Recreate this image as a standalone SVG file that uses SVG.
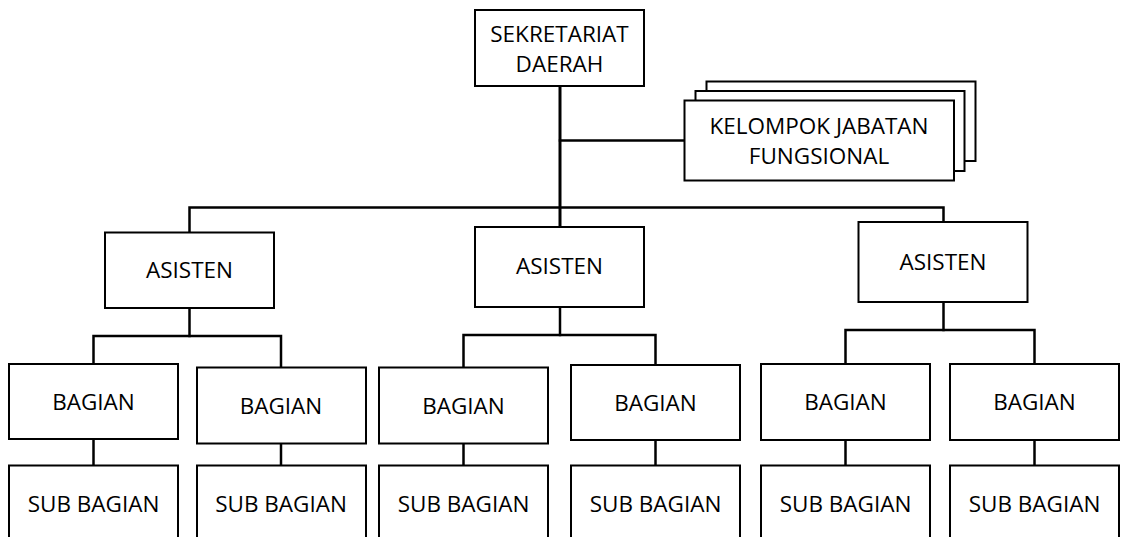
<svg xmlns="http://www.w3.org/2000/svg" width="1126" height="537" viewBox="0 0 1126 537">
  <style>
    .box { fill: #ffffff; stroke: #000000; stroke-width: 2; }
    .lbl { font-family: "Open Sans", "Liberation Sans", sans-serif; font-size: 22.5px; fill: #000000; text-anchor: middle; }
    .wire { fill: none; stroke: #000000; stroke-width: 2.5; stroke-linecap: square; }
    .trunk { fill: none; stroke: #000000; stroke-width: 3; }
  </style>
  <rect width="1126" height="537" fill="#ffffff"/>

  <!-- connectors -->
  <g id="connectors">
    <line class="trunk" x1="560" y1="86" x2="560" y2="227"/>
    <line class="wire" x1="560" y1="140.5" x2="684" y2="140.5"/>
    <polyline class="wire" points="189.5,232 189.5,207.5 943.5,207.5 943.5,222"/>
    <!-- asisten 1 -->
    <line class="wire" x1="189.5" y1="308" x2="189.5" y2="336"/>
    <polyline class="wire" points="93.5,364 93.5,336 281,336 281,367.5"/>
    <!-- asisten 2 -->
    <line class="wire" x1="560" y1="307" x2="560" y2="335"/>
    <polyline class="wire" points="463.5,367.5 463.5,335 655.5,335 655.5,365"/>
    <!-- asisten 3 -->
    <line class="wire" x1="943.5" y1="302" x2="943.5" y2="330"/>
    <polyline class="wire" points="845.5,364 845.5,330 1034.5,330 1034.5,364"/>
    <!-- bagian to sub bagian -->
    <line class="wire" x1="93.5" y1="439" x2="93.5" y2="465.5"/>
    <line class="wire" x1="281" y1="443.5" x2="281" y2="465.5"/>
    <line class="wire" x1="463.5" y1="443.5" x2="463.5" y2="465.5"/>
    <line class="wire" x1="655.5" y1="440" x2="655.5" y2="465.5"/>
    <line class="wire" x1="845.5" y1="440" x2="845.5" y2="465.5"/>
    <line class="wire" x1="1034.5" y1="440" x2="1034.5" y2="465.5"/>
  </g>

  <g id="sekretariat">
    <rect class="box" x="475" y="10" width="169" height="76"/>
    <text class="lbl" x="559.5" y="41.5">SEKRETARIAT</text>
    <text class="lbl" x="559.5" y="71.5">DAERAH</text>
  </g>

  <g id="fungsional">
    <rect class="box" x="706.5" y="81.5" width="269" height="79.5"/>
    <rect class="box" x="695.5" y="91" width="269" height="80"/>
    <rect class="box" x="684.5" y="100.5" width="269.5" height="80"/>
    <text class="lbl" x="819" y="134">KELOMPOK JABATAN</text>
    <text class="lbl" x="819" y="164">FUNGSIONAL</text>
  </g>

  <g id="asisten-1">
    <rect class="box" x="105" y="232.5" width="169" height="75.5"/>
    <text class="lbl" x="189.5" y="277.5">ASISTEN</text>
  </g>
  <g id="asisten-2">
    <rect class="box" x="475" y="227" width="169" height="80"/>
    <text class="lbl" x="559.5" y="273.5">ASISTEN</text>
  </g>
  <g id="asisten-3">
    <rect class="box" x="858.5" y="222" width="169" height="80"/>
    <text class="lbl" x="943" y="269.5">ASISTEN</text>
  </g>

  <g id="bagian-1">
    <rect class="box" x="9" y="364" width="169" height="75"/>
    <text class="lbl" x="93.5" y="410">BAGIAN</text>
  </g>
  <g id="bagian-2">
    <rect class="box" x="197" y="367.5" width="169" height="76"/>
    <text class="lbl" x="281" y="413.5">BAGIAN</text>
  </g>
  <g id="bagian-3">
    <rect class="box" x="379" y="367.5" width="169" height="76"/>
    <text class="lbl" x="463.5" y="413.5">BAGIAN</text>
  </g>
  <g id="bagian-4">
    <rect class="box" x="571" y="365" width="169" height="75"/>
    <text class="lbl" x="655.5" y="410.5">BAGIAN</text>
  </g>
  <g id="bagian-5">
    <rect class="box" x="761" y="364" width="169" height="76"/>
    <text class="lbl" x="845.5" y="410">BAGIAN</text>
  </g>
  <g id="bagian-6">
    <rect class="box" x="950" y="364" width="169" height="76"/>
    <text class="lbl" x="1034.5" y="410">BAGIAN</text>
  </g>

  <g id="sub-bagian-1">
    <rect class="box" x="9" y="465.5" width="169" height="80"/>
    <text class="lbl" x="93.5" y="511.5">SUB BAGIAN</text>
  </g>
  <g id="sub-bagian-2">
    <rect class="box" x="197" y="465.5" width="169" height="80"/>
    <text class="lbl" x="281" y="511.5">SUB BAGIAN</text>
  </g>
  <g id="sub-bagian-3">
    <rect class="box" x="379" y="465.5" width="169" height="80"/>
    <text class="lbl" x="463.5" y="511.5">SUB BAGIAN</text>
  </g>
  <g id="sub-bagian-4">
    <rect class="box" x="571" y="465.5" width="169" height="80"/>
    <text class="lbl" x="655.5" y="511.5">SUB BAGIAN</text>
  </g>
  <g id="sub-bagian-5">
    <rect class="box" x="761" y="465.5" width="169" height="80"/>
    <text class="lbl" x="845.5" y="511.5">SUB BAGIAN</text>
  </g>
  <g id="sub-bagian-6">
    <rect class="box" x="950" y="465.5" width="169" height="80"/>
    <text class="lbl" x="1034.5" y="511.5">SUB BAGIAN</text>
  </g>
</svg>
